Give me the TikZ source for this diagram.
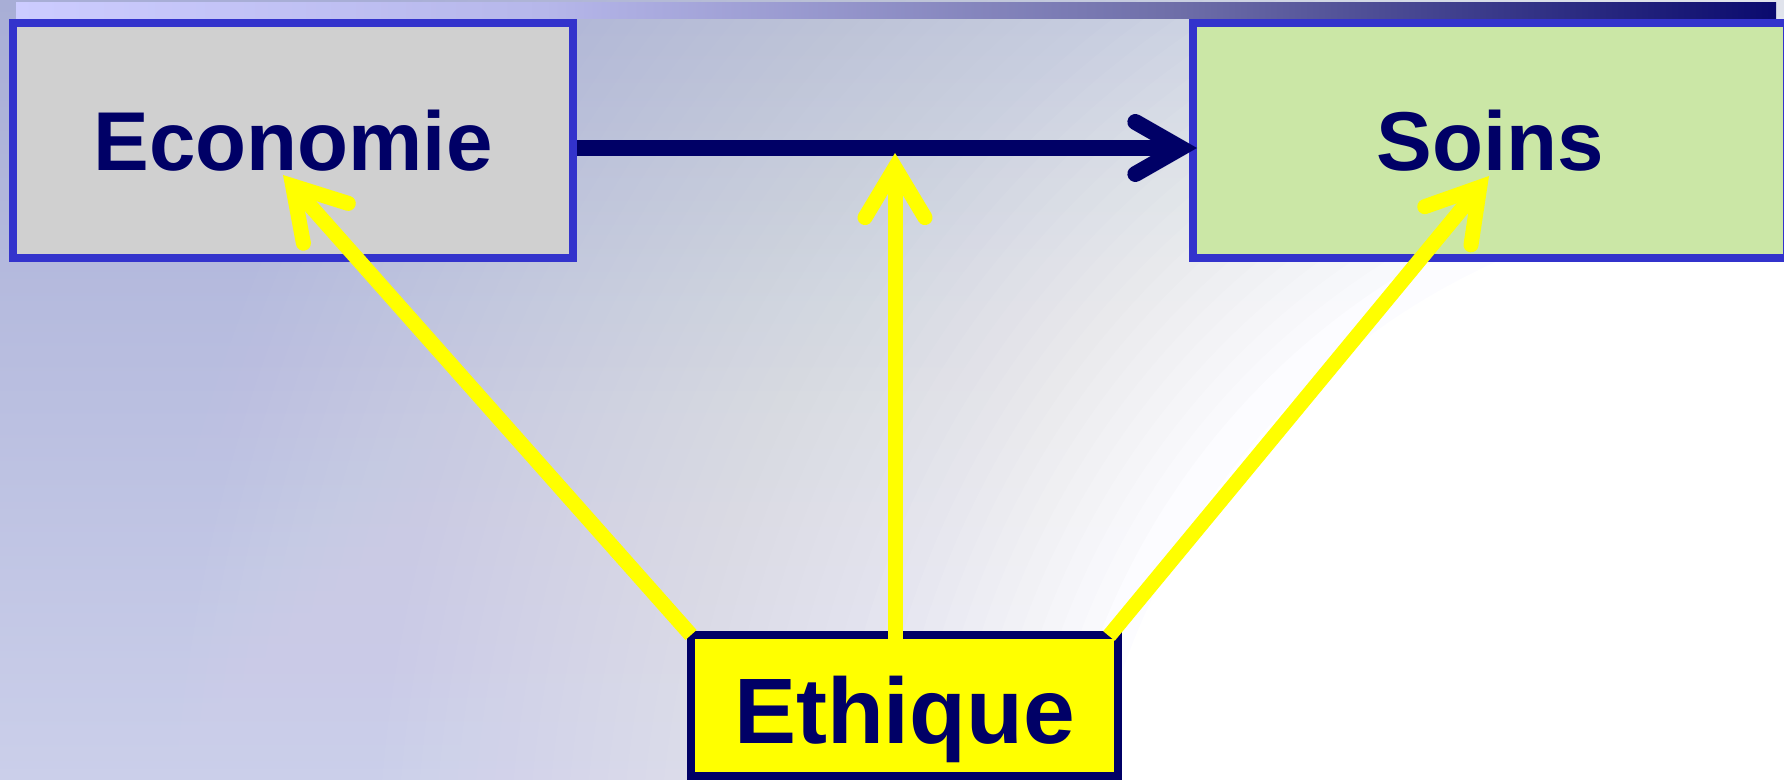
\documentclass[tikz,border=0pt]{standalone}
\usepackage{fontspec}
\setmainfont{Liberation Sans}
\usetikzlibrary{arrows.meta}
\definecolor{navy}{HTML}{000066}
\definecolor{boxblue}{HTML}{3333CC}
\definecolor{ecogrey}{HTML}{D0D0D0}
\definecolor{soinsgreen}{HTML}{CBE7A6}
\definecolor{bgtop}{HTML}{A8AED6}
\definecolor{bgmid}{HTML}{B3B8DE}
\definecolor{bgbot}{HTML}{CBCFEA}
\definecolor{glowcol}{HTML}{FCFCFF}
\definecolor{ethyellow}{HTML}{FFFF00}
\definecolor{barA}{HTML}{CCCCFF}
\definecolor{barB}{HTML}{B6B7EA}
\definecolor{barC}{HTML}{6E6EA8}
\definecolor{barD}{HTML}{0A0A6E}
\pgfdeclarehorizontalshading{barshade}{100bp}{color(0bp)=(barA); color(25bp)=(barA); color(40bp)=(barB); color(58bp)=(barC); color(75bp)=(barD); color(100bp)=(barD)}
\newcommand{\glowA}[2]{\pgfmathparse{(#1>1100)*0.5*(1650-#1)/550 + (#1<=1100)*(0.5+0.5*(1100-#1)/385)}\edef#2{\pgfmathresult}}
\begin{document}
\begin{tikzpicture}[x=0.5pt,y=-0.5pt,
  box/.style={draw=boxblue, line width=4pt, text=navy, inner sep=0pt,
    font=\fontsize{41.75pt}{50pt}\selectfont\bfseries,
    text height=30.5pt, text depth=0pt, minimum height=117.5pt},
  ethbox/.style={draw=navy, fill=ethyellow, line width=4pt, text=navy, inner sep=0pt,
    font=\fontsize{46.5pt}{56pt}\selectfont\bfseries,
    text height=37.5pt, text depth=0pt},
  navyarrow/.style={draw=navy, line width=8pt,
    -{Straight Barb[length=22.75pt, width=26pt, line cap=round, line join=miter]}},
  yellowarrow/.style={draw=ethyellow, line width=7.5pt,
    -{Straight Barb[length=25pt, width=30pt, line cap=round, line join=miter]}}]
\useasboundingbox (0,0) rectangle (1784,780);
% background
\shade[top color=bgtop, middle color=bgmid, bottom color=bgbot] (0,0) rectangle (1784,780);
\begin{scope}
\clip (0,0) rectangle (1784,780);
\foreach \i in {1,...,50}{
  \pgfmathsetmacro{\rprev}{1650-(\i-1)*18.7}
  \pgfmathsetmacro{\rcur}{1650-\i*18.7}
  \glowA{\rprev}{\Aprev}
  \glowA{\rcur}{\Acur}
  \pgfmathsetmacro{\op}{\i==50 ? 1 : 1-(1-\Acur)/(1-\Aprev)}
  \fill[glowcol, fill opacity=\op] (1784,900) circle (\rprev);
}
\fill[white] (1784,900) circle (700);
\end{scope}
% top bar
\shade[shading=barshade] (16,3) rectangle (1776,19);
% boxes
\node[box, fill=ecogrey, minimum width=280pt] (eco) at (293,140.5) {Economie};
\node[box, fill=soinsgreen, minimum width=297pt] (soins) at (1490,140.5) {Soins};
\node[ethbox, minimum width=213.5pt, minimum height=70.5pt] (eth) at (904.5,705.5) {Ethique};
% connectors
\coordinate (midtip) at (895,153);
\draw[navyarrow] ([yshift=-3.75pt]eco.east) -- ([shift={(4pt,-3.75pt)}]soins.west);
\draw[yellowarrow] ([shift={(2pt,-2pt)}]eth.north west) -- ([shift={(-5pt,-17.25pt)}]eco.center);
\draw[yellowarrow] ([shift={(-4.75pt,-4pt)}]eth.north) -- (midtip);
\draw[yellowarrow] ([shift={(-6.5pt,-2.5pt)}]eth.north east) -- ([shift={(-0.5pt,-17.75pt)}]soins.center);
\end{tikzpicture}
\end{document}
